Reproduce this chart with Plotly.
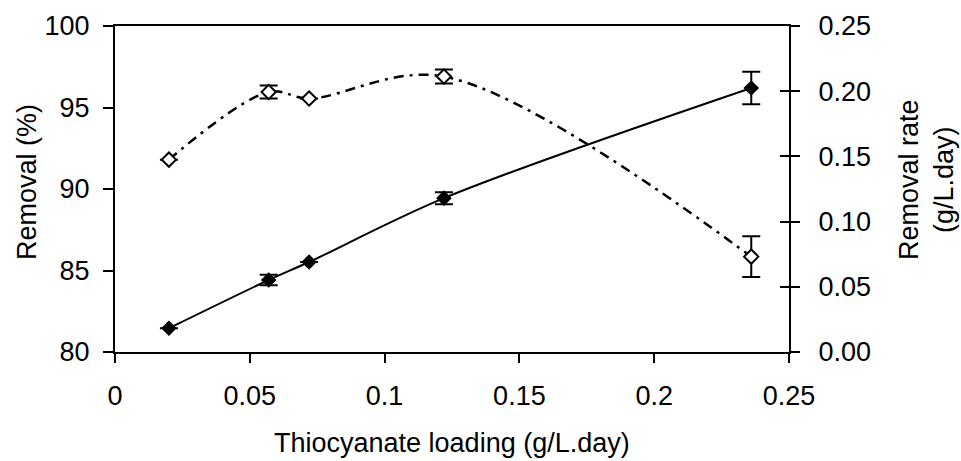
import plotly.graph_objects as go

loading = [0.020, 0.057, 0.072, 0.122, 0.236]
removal_pct = [91.8, 95.95, 95.55, 96.9, 85.85]
removal_pct_err = [0.0, 0.4, 0.0, 0.43, 1.25]
removal_rate = [0.0182, 0.0552, 0.0690, 0.1180, 0.2025]
removal_rate_err = [0.0, 0.004, 0.0, 0.0046, 0.0125]

x_ticks = [0, 0.05, 0.1, 0.15, 0.2, 0.25]
x_ticktext = ["0", "0.05", "0.1", "0.15", "0.2", "0.25"]

FONT = "Arial, 'Liberation Sans', sans-serif"
FS = 27

fig = go.Figure()

fig.add_trace(go.Scatter(
    x=loading, y=removal_rate, yaxis="y2", mode="lines+markers",
    line=dict(color="black", width=2, shape="spline", smoothing=0.9),
    marker=dict(symbol="diamond", size=12, color="black"),
    error_y=dict(type="data", array=removal_rate_err, visible=True,
                 color="black", thickness=2, width=9),
    showlegend=False,
))

fig.add_trace(go.Scatter(
    x=loading, y=removal_pct, yaxis="y", mode="lines+markers",
    line=dict(color="black", width=2.5, shape="spline", smoothing=1.0,
              dash="10px,6px,3px,6px"),
    marker=dict(symbol="diamond", size=11, color="white",
                line=dict(color="black", width=2)),
    error_y=dict(type="data", array=removal_pct_err, visible=True,
                 color="black", thickness=2, width=9),
    showlegend=False,
))

fig.update_layout(
    width=961, height=461,
    margin=dict(l=115, r=172, t=26, b=109),
    paper_bgcolor="white", plot_bgcolor="white",
    font=dict(family=FONT, size=FS, color="black"),
    xaxis=dict(range=[0, 0.25], tickvals=x_ticks, ticktext=x_ticktext,
               ticks="outside", ticklen=9, tickwidth=1.5, tickcolor="black",
               ticklabelstandoff=10,
               showline=True, linewidth=2, linecolor="black", mirror=True,
               showgrid=False, zeroline=False),
    yaxis=dict(range=[80, 100], dtick=5, tick0=80,
               ticks="outside", ticklen=10, tickwidth=1.5, tickcolor="black",
               ticklabelstandoff=8,
               showline=True, linewidth=2, linecolor="black",
               showgrid=False, zeroline=False),
    yaxis2=dict(range=[0, 0.25], dtick=0.05, tick0=0, tickformat=".2f",
                overlaying="y", side="right", anchor="x",
                ticks="outside", ticklen=9, tickwidth=1.5, tickcolor="black",
                ticklabelstandoff=13,
                showline=True, linewidth=2, linecolor="black",
                showgrid=False, zeroline=False),
    yaxis3=dict(range=[0, 0.25], dtick=0.05, tick0=0,
                overlaying="y", side="right", anchor="x",
                ticks="inside", ticklen=9, tickwidth=1.5, tickcolor="black",
                showticklabels=False, showline=False,
                showgrid=False, zeroline=False),
    annotations=[
        dict(text="Thiocyanate loading (g/L.day)", xref="paper", yref="paper",
             x=0.5, y=0, yshift=-91, showarrow=False,
             xanchor="center", yanchor="middle", font=dict(size=FS)),
        dict(text="Removal (%)", xref="paper", yref="paper",
             x=0, y=0.5, xshift=-88, yshift=7, textangle=-90, showarrow=False,
             xanchor="center", yanchor="middle", font=dict(size=FS)),
        dict(text="Removal rate<br>(g/L.day)", xref="paper", yref="paper",
             x=1, y=0.5, xshift=137, yshift=9, textangle=-90, showarrow=False,
             xanchor="center", yanchor="middle", font=dict(size=FS)),
    ],
)

# dummy trace to make yaxis3 visible
fig.add_trace(go.Scatter(x=[None], y=[None], yaxis="y3", showlegend=False,
                         hoverinfo="skip"))

fig.write_html("out.html")
